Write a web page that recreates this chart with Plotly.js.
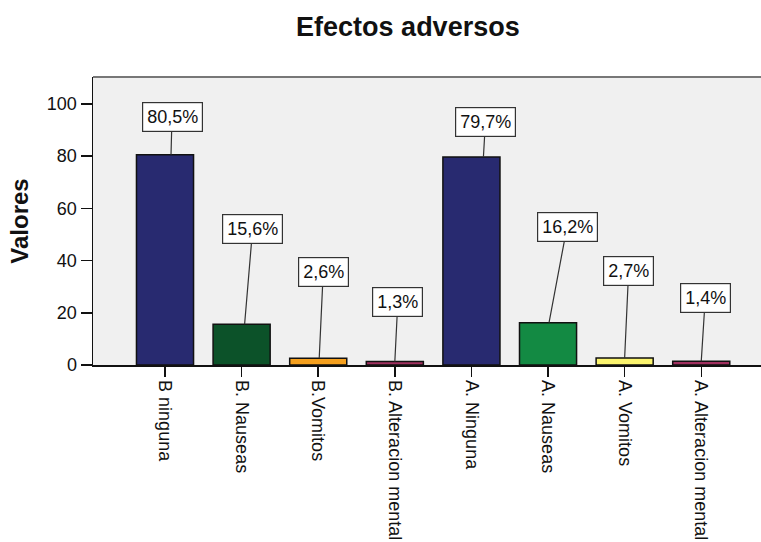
<!DOCTYPE html>
<html>
<head>
<meta charset="utf-8">
<script src="https://cdn.plot.ly/plotly-3.0.1.min.js"></script>
<style>
html,body{margin:0;padding:0;background:#fff;overflow:hidden;}
#chart{width:761px;height:542px;}
</style>
</head>
<body>
<div id="chart"></div>
<script>
var categories = ["B ninguna", "B. Nauseas", "B.Vomitos", "B. Alteracion mental",
                  "A. Ninguna", "A. Nauseas", "A. Vomitos", "A. Alteracion mental"];
var values = [80.5, 15.6, 2.6, 1.3, 79.7, 16.2, 2.7, 1.4];
var barColors = ["#282A70", "#0C5229", "#F5A01E", "#A0305F",
                 "#282A70", "#138A43", "#FBF46E", "#A0305F"];
var yTicks = [0, 20, 40, 60, 80, 100];

// label placement styles (pixel offsets)
var tipShift = [6, 3, 1, 0, 12, 1, 0, 0];
var boxDx = [1, 8, 4, 3, 2, 18, 4, 4];
var boxDy = [-38, -95, -86, -60, -35, -96, -87, -63];

var FONT = "Liberation Sans, Arial, sans-serif";

var trace = {
  type: "bar",
  x: categories,
  y: values,
  width: 0.745,
  marker: {color: barColors, line: {color: "#111", width: 1.5}},
  hoverinfo: "x+y"
};

var annotations = categories.map(function(c, i){
  return {
    x: c, y: values[i], xref: "x", yref: "y",
    xshift: tipShift[i],
    ax: boxDx[i], ay: boxDy[i],
    showarrow: true, arrowhead: 0, arrowwidth: 1.2, arrowcolor: "#333",
    text: values[i].toFixed(1).replace(".", ",") + "%",
    font: {family: FONT, size: 18, color: "#111"},
    bgcolor: "#fff", bordercolor: "#333", borderwidth: 1.2, borderpad: 4
  };
});

var layout = {
  width: 761, height: 542,
  margin: {l: 93, r: 0, t: 77, b: 177, pad: 0},
  paper_bgcolor: "#fff",
  plot_bgcolor: "#F0F0F0",
  showlegend: false,
  bargap: 0.25,
  title: {
    text: "<b>Efectos adversos</b>",
    font: {family: FONT, size: 27, color: "#111"},
    xref: "container", yref: "container",
    x: 0.536, y: 0.951, xanchor: "center", yanchor: "middle"
  },
  xaxis: {
    type: "category",
    range: [-0.94, 7.78],
    showgrid: false, zeroline: false,
    showline: true, linecolor: "#111", linewidth: 1.5,
    ticks: "outside", ticklen: 10, tickwidth: 1.5, tickcolor: "#111",
    tickangle: 90,
    tickfont: {family: FONT, size: 18, color: "#111"},
    fixedrange: true
  },
  yaxis: {
    range: [0, 110.3],
    tickvals: yTicks,
    showgrid: false, zeroline: false,
    showline: true, linecolor: "#111", linewidth: 1.5,
    ticks: "outside", ticklen: 11, tickwidth: 1.5, tickcolor: "#111",
    tickfont: {family: FONT, size: 18, color: "#111"},
    title: {text: "<b>Valores</b>", font: {family: FONT, size: 24, color: "#111"}, standoff: 11},
    fixedrange: true
  },
  shapes: [{
    type: "line", xref: "paper", yref: "paper",
    x0: 0, x1: 1, y0: 1, y1: 1,
    line: {color: "#777", width: 2}
  }],
  annotations: annotations
};

Plotly.newPlot("chart", [trace], layout, {displayModeBar: false, staticPlot: true});
</script>
</body>
</html>
